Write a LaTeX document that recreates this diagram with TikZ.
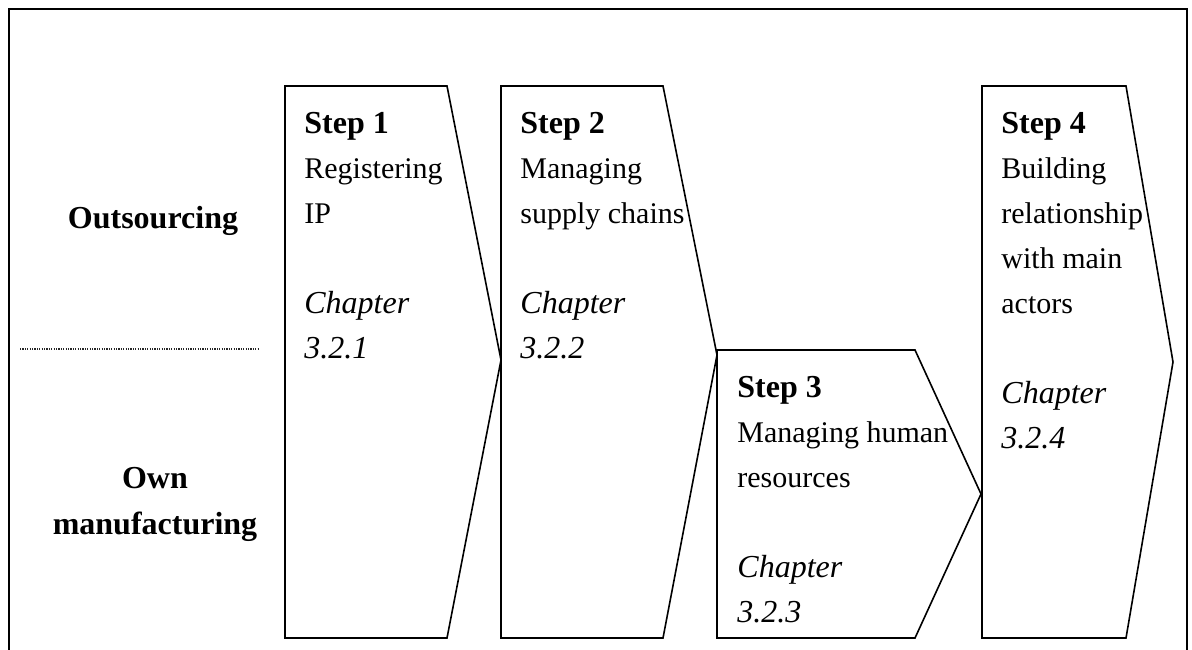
\documentclass[tikz,border=0pt]{standalone}
\usepackage{fontspec}
\setmainfont{Liberation Serif}
\begin{document}
\begin{tikzpicture}[x=0.5pt,y=-0.5pt,
  frame/.style={line width=1pt},
  stepshape/.style={line width=0.8pt, line join=miter},
  txt/.style={inner sep=0pt, anchor=base west, font=\fontsize{15pt}{18pt}\selectfont},
  head/.style={txt, font=\fontsize{16pt}{19pt}\selectfont\bfseries},
  chap/.style={txt, font=\fontsize{16pt}{19pt}\selectfont\itshape},
  side/.style={inner sep=0pt, anchor=base, font=\fontsize{16pt}{19pt}\selectfont\bfseries},
  divider/.style={line width=0.6pt, dash pattern=on 0.6pt off 0.6pt, black!85}]
\useasboundingbox (0,0) rectangle (1192,649);

% outer frame, open at the bottom
\draw[frame] (9,652) -- (9,9) -- (1187,9) -- (1187,652);

% row labels and divider
\node[side] (out) at (153,228) {Outsourcing};
\node[side] (own) at (155,488) {Own};
\node[side] (man) at (155,534) {manufacturing};
\coordinate (dl) at (20,349);
\coordinate (dr) at (258,349);
\draw[divider] (dl) -- (dr);

% step 1
\draw[stepshape] (285,86) -- (447,86) -- (501,360) -- (447,638) -- (285,638) -- cycle;
\node[head] (s1) at (304,133) {Step 1};
\node[txt]  (s1a) at (304,178) {Registering};
\node[txt]  (s1b) at (304,223) {IP};
\node[chap] (s1c) at (304,313) {Chapter};
\node[chap] (s1d) at (304,358) {3.2.1};

% step 2
\draw[stepshape] (501,86) -- (663,86) -- (717,355) -- (663,638) -- (501,638) -- cycle;
\node[head] (s2) at (520,133) {Step 2};
\node[txt]  (s2a) at (520,178) {Managing};
\node[txt]  (s2b) at (520,223) {supply chains};
\node[chap] (s2c) at (520,313) {Chapter};
\node[chap] (s2d) at (520,358) {3.2.2};

% step 3
\draw[stepshape] (717,350) -- (915,350) -- (981,494) -- (915,638) -- (717,638) -- cycle;
\node[head] (s3) at (737,397) {Step 3};
\node[txt]  (s3a) at (737,442) {Managing human};
\node[txt]  (s3b) at (737,487) {resources};
\node[chap] (s3c) at (737,577) {Chapter};
\node[chap] (s3d) at (737,622) {3.2.3};

% step 4
\draw[stepshape] (982,86) -- (1126,86) -- (1173,362) -- (1126,638) -- (982,638) -- cycle;
\node[head] (s4) at (1001,133) {Step 4};
\node[txt]  (s4a) at (1001,178) {Building};
\node[txt]  (s4b) at (1001,223) {relationship};
\node[txt]  (s4c) at (1001,268) {with main};
\node[txt]  (s4d) at (1001,313) {actors};
\node[chap] (s4e) at (1001,403) {Chapter};
\node[chap] (s4f) at (1001,448) {3.2.4};
\end{tikzpicture}
\end{document}
